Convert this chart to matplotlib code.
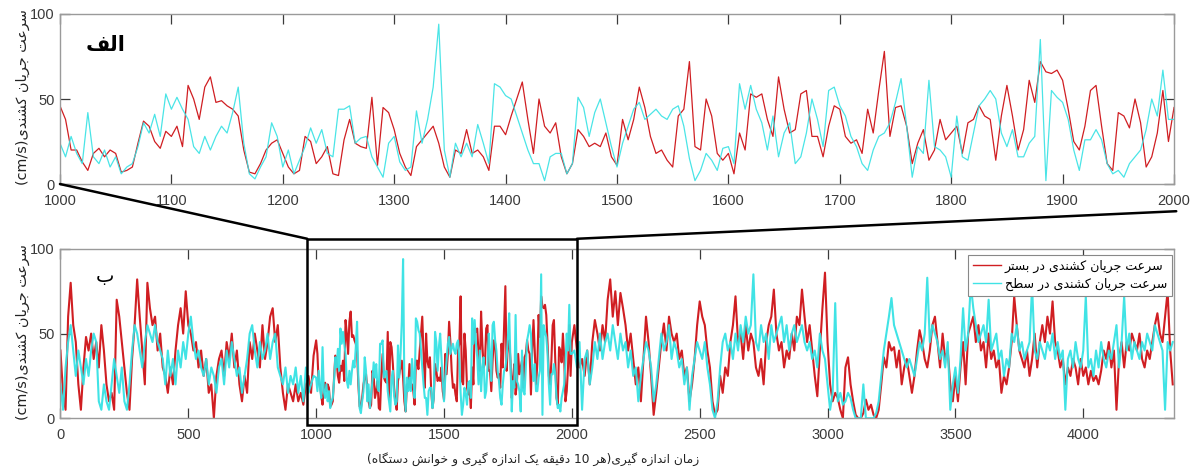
import numpy as np
import matplotlib
matplotlib.use("Agg")
import matplotlib.pyplot as plt
from matplotlib.patches import Rectangle, ConnectionPatch

# ---------------- data ----------------
# time index in the zoomed window 1000..2000, every 5 readings
red_zoom = [
    46, 38, 20, 20, 13, 8, 18, 21, 16, 20, 18, 7, 8, 10, 24, 37, 34, 25, 21, 31,
    28, 34, 22, 58, 50, 38, 57, 63, 48, 49, 46, 44, 40, 20, 7, 6, 12, 20, 24, 26,
    18, 10, 6, 8, 28, 25, 12, 16, 22, 6, 5, 26, 38, 24, 22, 21, 51, 11, 45, 42,
    32, 18, 10, 5, 22, 26, 30, 34, 24, 10, 4, 20, 18, 32, 18, 20, 16, 8, 34, 34,
    29, 40, 50, 60, 38, 18, 50, 34, 30, 36, 16, 6, 12, 32, 28, 22, 24, 22, 30, 16,
    11, 38, 26, 38, 57, 45, 28, 18, 20, 14, 10, 40, 44, 72, 22, 20, 50, 40, 18, 14,
    18, 6, 30, 20, 53, 51, 53, 38, 28, 63, 44, 30, 32, 53, 55, 28, 28, 16, 34, 46,
    44, 28, 24, 26, 18, 44, 30, 55, 78, 28, 45, 46, 34, 12, 24, 32, 14, 20, 38, 26,
    30, 34, 18, 36, 38, 46, 40, 38, 14, 40, 58, 40, 20, 32, 61, 48, 72, 66, 65, 67,
    61, 44, 25, 20, 34, 55, 58, 34, 12, 8, 42, 40, 33, 50, 36, 10, 16, 30, 55, 25,
    45]
cyan_zoom = [
    24, 16, 28, 18, 12, 42, 16, 12, 20, 10, 16, 6, 10, 12, 22, 36, 30, 41, 28, 53,
    44, 51, 44, 38, 22, 18, 28, 20, 28, 34, 30, 42, 57, 24, 6, 3, 10, 16, 36, 28,
    10, 20, 6, 14, 22, 33, 24, 32, 18, 16, 44, 44, 46, 24, 27, 28, 16, 10, 4, 24,
    28, 13, 8, 10, 43, 24, 38, 57, 94, 20, 4, 24, 16, 24, 16, 35, 24, 12, 59, 57,
    52, 50, 40, 30, 20, 12, 12, 2, 16, 18, 18, 6, 12, 51, 45, 28, 42, 50, 36, 22,
    10, 24, 34, 44, 48, 38, 41, 44, 40, 38, 44, 46, 34, 15, 2, 8, 18, 14, 8, 21,
    22, 12, 59, 44, 58, 44, 36, 20, 40, 16, 30, 36, 12, 16, 30, 50, 38, 22, 55, 57,
    46, 40, 28, 22, 12, 8, 20, 28, 30, 36, 48, 62, 34, 4, 22, 18, 61, 22, 20, 16,
    4, 40, 16, 14, 30, 46, 50, 55, 50, 30, 22, 32, 16, 16, 24, 28, 85, 2, 55, 51,
    48, 38, 20, 8, 26, 26, 32, 26, 12, 6, 8, 4, 12, 16, 20, 32, 50, 40, 67, 38,
    38]

# time 0..990, every 10 readings
red_early = [
    40, 15, 5, 60, 80, 55, 45, 20, 5, 30,
    48, 40, 50, 35, 45, 30, 55, 40, 20, 10,
    15, 5, 70, 60, 45, 30, 15, 5, 35, 55,
    82, 60, 40, 20, 80, 65, 55, 60, 40, 50,
    30, 25, 15, 30, 20, 40, 55, 65, 50, 75,
    55, 50, 40, 45, 30, 40, 25, 35, 15, 20,
    0, 25, 35, 40, 25, 45, 35, 50, 30, 40,
    20, 10, 25, 15, 45, 35, 50, 40, 30, 55,
    35, 45, 60, 65, 45, 55, 30, 15, 5, 20,
    15, 10, 20, 10, 15, 8, 20, 25, 15, 37]
cyan_early = [
    20, 5, 30, 45, 55, 40, 25, 40, 30, 20,
    35, 25, 40, 50, 45, 10, 5, 20, 10, 5,
    20, 35, 25, 15, 30, 10, 5, 20, 40, 55,
    50, 40, 30, 45, 55, 50, 45, 55, 45, 40,
    35, 20, 40, 25, 35, 20, 40, 30, 45, 35,
    50, 60, 45, 35, 40, 30, 25, 35, 20, 30,
    25, 15, 30, 35, 20, 40, 30, 45, 35, 25,
    30, 15, 25, 35, 50, 55, 40, 30, 45, 35,
    40, 50, 35, 45, 50, 30, 25, 20, 30, 15,
    25, 20, 30, 15, 25, 10, 30, 15, 20, 25]

# time 2010..4350, every 10 readings
red_late = [
    55, 40, 30, 35, 25, 40, 20, 45, 58, 50,
    40, 55, 45, 70, 82, 60, 75, 55, 74, 65,
    55, 40, 50, 35, 20, 30, 10, 35, 60, 45,
    25, 2, 15, 30, 45, 56, 40, 60, 50, 45,
    50, 35, 40, 25, 30, 10, 20, 35, 55, 69,
    60, 55, 40, 30, 10, 2, 5, 25, 15, 30,
    25, 45, 55, 72, 45, 50, 35, 55, 40, 50,
    45, 30, 25, 35, 20, 45, 55, 60, 76, 50,
    40, 45, 30, 40, 35, 50, 40, 60, 55, 76,
    60, 45, 55, 40, 25, 13, 40, 65, 86, 45,
    20, 10, 15, 12, 5, 0, 30, 36, 20, 10,
    2, 0, 0, 3, 11, 5, 8, 2, 0, 5,
    20, 36, 30, 45, 40, 42, 30, 40, 20, 30,
    35, 25, 15, 25, 40, 52, 45, 35, 30, 40,
    55, 60, 45, 30, 50, 35, 40, 20, 10, 25,
    10, 30, 45, 20, 50, 55, 60, 45, 55, 40,
    45, 30, 50, 35, 40, 30, 35, 15, 25, 20,
    30, 45, 72, 55, 40, 35, 30, 40, 25, 35,
    50, 30, 45, 55, 45, 60, 50, 69, 45, 40,
    30, 35, 20, 30, 25, 35, 30, 20, 35, 25,
    30, 20, 28, 22, 25, 20, 28, 40, 35, 45,
    30, 40, 5, 35, 45, 30, 45, 40, 50, 45,
    40, 50, 35, 30, 40, 35, 45, 55, 62, 50,
    45, 60, 75, 40, 20]
cyan_late = [
    40, 30, 45, 5, 35, 40, 20, 30, 45, 35,
    50, 35, 45, 50, 40, 55, 45, 35, 50, 40,
    45, 30, 40, 25, 30, 10, 25, 35, 45, 40,
    30, 10, 20, 35, 50, 40, 45, 55, 35, 45,
    40, 30, 35, 20, 30, 5, 25, 35, 45, 40,
    35, 45, 30, 20, 5, 0, 10, 30, 45, 50,
    40, 45, 35, 50, 40, 55, 45, 60, 50, 55,
    85, 45, 40, 55, 45, 50, 35, 55, 45, 50,
    55, 60, 45, 55, 40, 50, 55, 45, 50, 55,
    45, 40, 45, 35, 40, 30, 50, 40, 35, 20,
    5, 15, 68, 10, 15, 8, 10, 15, 12, 5,
    0, 0, 0, 20, 0, 0, 0, 0, 3, 10,
    25, 40, 50, 60, 71, 55, 50, 45, 40, 35,
    30, 35, 30, 25, 35, 45, 40, 50, 83, 45,
    55, 50, 45, 35, 40, 30, 45, 5, 20, 30,
    15, 35, 65, 40, 50, 79, 65, 55, 45, 50,
    55, 45, 70, 40, 45, 50, 35, 40, 25, 35,
    30, 50, 45, 55, 40, 45, 35, 40, 45, 78,
    40, 35, 45, 40, 35, 45, 40, 50, 35, 45,
    35, 40, 5, 35, 40, 30, 45, 35, 30, 40,
    72, 30, 35, 25, 40, 30, 45, 35, 30, 40,
    35, 45, 55, 30, 45, 72, 40, 50, 35, 45,
    40, 35, 45, 40, 50, 45, 40, 55, 50, 45,
    40, 5, 45, 40, 45]

top_xticks = list(range(1000, 2001, 100))
bottom_xticks = [0, 500, 1000, 1500, 2000, 2500, 3000, 3500, 4000]
yticks = [0, 50, 100]

ylabel_txt = "سرعت جریان کشندی(cm/s)"
xlabel_txt = "زمان اندازه گیری(هر 10 دقیقه یک اندازه گیری و خوانش دستگاه)"
label_bed = "سرعت جریان کشندی در بستر"
label_surf = "سرعت جریان کشندی در سطح"
panel_a = "الف"
panel_b = "ب"

# ---------------- Persian shaping (presentation forms + visual order) ----------------
_F = {
    '\u0627': (0xFE8D, 0xFE8E, None, None),
    '\u0628': (0xFE8F, 0xFE90, 0xFE91, 0xFE92),
    '\u062A': (0xFE95, 0xFE96, 0xFE97, 0xFE98),
    '\u062C': (0xFE9D, 0xFE9E, 0xFE9F, 0xFEA0),
    '\u062D': (0xFEA1, 0xFEA2, 0xFEA3, 0xFEA4),
    '\u062E': (0xFEA5, 0xFEA6, 0xFEA7, 0xFEA8),
    '\u062F': (0xFEA9, 0xFEAA, None, None),
    '\u0631': (0xFEAD, 0xFEAE, None, None),
    '\u0632': (0xFEAF, 0xFEB0, None, None),
    '\u0633': (0xFEB1, 0xFEB2, 0xFEB3, 0xFEB4),
    '\u0634': (0xFEB5, 0xFEB6, 0xFEB7, 0xFEB8),
    '\u0637': (0xFEC1, 0xFEC2, 0xFEC3, 0xFEC4),
    '\u0639': (0xFEC9, 0xFECA, 0xFECB, 0xFECC),
    '\u0641': (0xFED1, 0xFED2, 0xFED3, 0xFED4),
    '\u0642': (0xFED5, 0xFED6, 0xFED7, 0xFED8),
    '\u0644': (0xFEDD, 0xFEDE, 0xFEDF, 0xFEE0),
    '\u0645': (0xFEE1, 0xFEE2, 0xFEE3, 0xFEE4),
    '\u0646': (0xFEE5, 0xFEE6, 0xFEE7, 0xFEE8),
    '\u0647': (0xFEE9, 0xFEEA, 0xFEEB, 0xFEEC),
    '\u0648': (0xFEED, 0xFEEE, None, None),
    '\u06A9': (0xFB8E, 0xFB8F, 0xFB90, 0xFB91),
    '\u06AF': (0xFB92, 0xFB93, 0xFB94, 0xFB95),
    '\u06CC': (0xFBFC, 0xFBFD, 0xFBFE, 0xFBFF),
}
_NORM = {'\u064A': '\u06CC', '\u0643': '\u06A9'}
_MIRROR = {'(': ')', ')': '('}


def _shape(s):
    s = ''.join(_NORM.get(c, c) for c in s)
    out = []
    for i, ch in enumerate(s):
        f = _F.get(ch)
        if f is None:
            out.append(ch)
            continue
        prev = s[i - 1] if i > 0 else None
        nxt = s[i + 1] if i < len(s) - 1 else None
        jp = prev in _F and _F[prev][2] is not None
        jn = nxt in _F and f[2] is not None
        if jp and jn:
            out.append(chr(f[3]))
        elif jp:
            out.append(chr(f[1]))
        elif jn:
            out.append(chr(f[2]))
        else:
            out.append(chr(f[0]))
    return ''.join(out)


def fa(s):
    shaped = _shape(s)
    runs = []
    for ch in shaped:
        ltr = ch.isascii() and (ch.isalnum() or ch in '/.')
        if runs and runs[-1][0] == ltr:
            runs[-1][1].append(ch)
        else:
            runs.append([ltr, [ch]])
    parts = []
    for ltr, chars in reversed(runs):
        if ltr:
            parts.append(''.join(chars))
        else:
            parts.append(''.join(_MIRROR.get(c, c) for c in reversed(chars)))
    return ''.join(parts)


# ---------------- assemble series ----------------
t_early = np.arange(0, 1000, 10)
t_zoom = np.arange(1000, 2001, 5)
t_late = np.arange(2010, 4351, 10)
t_all = np.concatenate([t_early, t_zoom, t_late])
red_all = np.concatenate([red_early, red_zoom, red_late])
cyan_all = np.concatenate([cyan_early, cyan_zoom, cyan_late])

RED = '#D01E22'
CYAN = '#36E2E4'
GRID_GREY = '#9a9a9a'
TICK_COL = '#3a3a3a'
AR_FONT = ['DejaVu Sans']

plt.rcParams['font.family'] = ['Liberation Sans', 'DejaVu Sans']

fig = plt.figure(figsize=(11.97, 4.71), dpi=100)
ax1 = fig.add_axes([0.0501, 0.6093, 0.9307, 0.3610])
ax2 = fig.add_axes([0.0505, 0.1120, 0.9303, 0.3595])


def style(ax):
    for sp in ax.spines.values():
        sp.set_color(GRID_GREY)
        sp.set_linewidth(1.0)
    ax.tick_params(direction='in', length=7, width=0.9, colors=TICK_COL,
                   labelsize=10.5, top=True, right=True, pad=4)
    ax.tick_params(axis='x', pad=7)
    ax.set_yticks(yticks)
    ax.set_ylim(0, 100)


# top panel (zoomed window)
ax1.plot(t_zoom, red_zoom, color=RED, lw=0.9)
ax1.plot(t_zoom, cyan_zoom, color=CYAN, lw=0.9, alpha=0.9)
ax1.set_xlim(1000, 2000)
ax1.set_xticks(top_xticks)
style(ax1)
ax1.text(1041, 82, fa(panel_a), family=AR_FONT, fontsize=15, fontweight='bold',
         ha='center', va='center')

# bottom panel (full series)
ax2.plot(t_all, red_all, color=RED, lw=1.5, label=fa(label_bed))
ax2.plot(t_all, cyan_all, color=CYAN, lw=1.5, alpha=0.95, label=fa(label_surf))
ax2.set_xlim(0, 4355)
ax2.set_xticks(bottom_xticks)
style(ax2)
ax2.text(174, 84, fa(panel_b), family=AR_FONT, fontsize=14,
         ha='center', va='center')

leg = ax2.legend(loc='upper right', bbox_to_anchor=(0.998, 0.965),
                 prop={'family': AR_FONT, 'size': 9}, handlelength=2.2,
                 handletextpad=0.3, borderpad=0.4, labelspacing=0.35,
                 fancybox=False, framealpha=1.0, borderaxespad=0.0)
leg.get_frame().set_edgecolor('#888888')
leg.get_frame().set_linewidth(0.8)
for h in leg.get_lines():
    h.set_linewidth(1.0)

# y labels
for ax in (ax1, ax2):
    pos = ax.get_position()
    fig.text(0.019, pos.y0 + pos.height / 2 + 0.004, fa(ylabel_txt), family=AR_FONT,
             fontsize=10.4, rotation=90, ha='center', va='center', color='#222222')

# x label
fig.text(0.445, 0.026, fa(xlabel_txt), family=AR_FONT, fontsize=8.8,
         ha='center', va='center', color='#222222')

# zoom box and connectors
rect = Rectangle((965, -4), 2020 - 965, 110, fill=False, edgecolor='black',
                 lw=1.8, clip_on=False, zorder=5)
ax2.add_patch(rect)
c1 = ConnectionPatch(xyA=(1000, 0), coordsA=ax1.transData,
                     xyB=(965, 106), coordsB=ax2.transData,
                     color='black', lw=1.8)
c2 = ConnectionPatch(xyA=(2002, -16), coordsA=ax1.transData,
                     xyB=(2020, 106), coordsB=ax2.transData,
                     color='black', lw=1.8)
fig.add_artist(c1)
fig.add_artist(c2)

fig.savefig('out.png', dpi=100, facecolor='white')
